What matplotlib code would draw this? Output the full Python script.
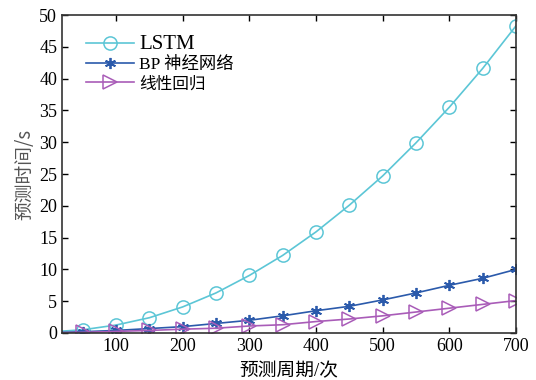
import matplotlib
matplotlib.use("Agg")
import matplotlib.pyplot as plt

plt.rcParams['font.family'] = ['Liberation Serif', 'Noto Sans CJK SC']

x = [20, 50, 100, 150, 200, 250, 300, 350, 400, 450, 500, 550, 600, 650, 700]
lstm = [0.3, 0.5, 1.25, 2.4, 4.1, 6.3, 9.05, 12.2, 15.9, 20.1, 24.7, 29.9, 35.5, 41.6, 48.3]
bp = [0.1, 0.2, 0.4, 0.7, 1.0, 1.5, 2.0, 2.7, 3.5, 4.2, 5.2, 6.3, 7.5, 8.6, 10.0]
linear = [0.05, 0.1, 0.25, 0.4, 0.6, 0.75, 1.1, 1.3, 1.8, 2.2, 2.7, 3.3, 3.9, 4.5, 5.1]

fig = plt.figure(figsize=(5.36, 3.80), dpi=100)
ax = fig.add_axes([0.1157, 0.1237, 0.847, 0.8368])

mk = list(range(1, len(x)))
ax.plot(x, lstm, color='#5cc6d6', lw=1.2, marker='o', ms=9.5, mfc='none', mew=1.1,
        markevery=mk, label='LSTM')
ax.plot(x, bp, color='#2b5aab', lw=1.2, marker=(6, 2, 0), ms=8, mew=1.3,
        markevery=mk, label='BP 神经网络')
ax.plot(x, linear, color='#a95cb8', lw=1.2, marker='>', ms=9.5, mfc='none', mew=1.1,
        markevery=mk, label='线性回归')

ax.set_xlim(19, 700)
ax.set_ylim(0, 50)
ax.set_xticks([100, 200, 300, 400, 500, 600, 700])
ax.set_yticks(range(0, 51, 5))
ax.tick_params(direction='in', top=True, right=True, length=4, width=1, labelsize=13)
for s in ax.spines.values():
    s.set_linewidth(1.2)
    s.set_color('#333333')

ax.set_xlabel('预测周期/次', fontsize=13.5, labelpad=6)
ax.set_ylabel('预测时间/s', fontsize=13.5, color='#555555', family=['Noto Sans CJK SC'], labelpad=3)

leg = ax.legend(loc='upper left', frameon=False, fontsize=12, handlelength=2.9,
                borderaxespad=0.2, bbox_to_anchor=(0.03, 0.97), labelspacing=0.2,
                handletextpad=0.3)
leg.get_texts()[0].set_fontsize(15)
leg.get_texts()[1].set_fontsize(12.5)

fig.savefig('out.png', dpi=100)
